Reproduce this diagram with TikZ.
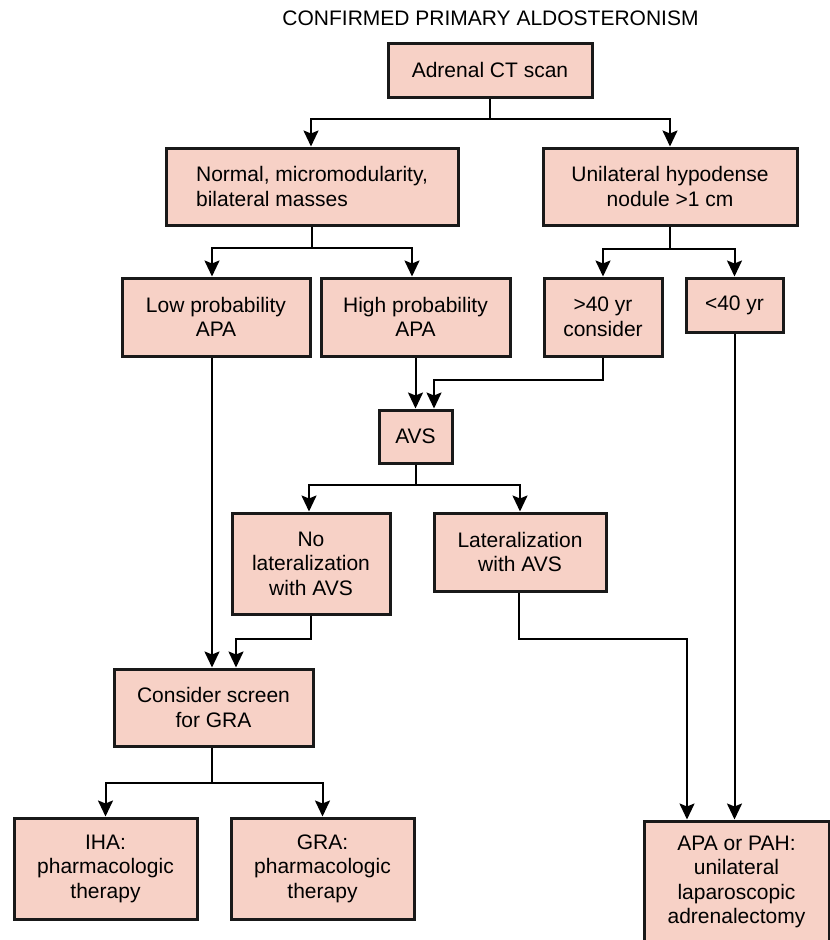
\documentclass[tikz,border=0pt]{standalone}
\usepackage{fontspec}
\setmainfont{Liberation Sans}
\usetikzlibrary{arrows.meta}
\definecolor{boxfill}{RGB}{247,209,198}
\begin{document}
\begin{tikzpicture}[x=1pt,y=-1pt,
  every node/.style={font=\fontsize{21}{24.5}\selectfont},
  fbox/.style={draw=black!90, line width=3pt, fill=boxfill, align=center, inner sep=0pt},
  arr/.style={line width=2pt, -{Stealth[length=16pt,width=15pt,inset=3pt]}},
  lin/.style={line width=2pt}]
\path[use as bounding box, clip] (0,0) rectangle (830,940);

\node[anchor=base] (title) at (490.5,25) {CONFIRMED PRIMARY ALDOSTERONISM};

\node[fbox, minimum width=204pt, minimum height=54pt] (ct) at (490,70) {Adrenal CT scan};
\node[fbox, minimum width=292pt, minimum height=77pt, align=left] (norm) at (312,186.5) {Normal, micromodularity,\\bilateral masses};
\node[fbox, minimum width=254pt, minimum height=77pt] (uni) at (670,186.5) {Unilateral hypodense\\nodule >1 cm};
\node[fbox, minimum width=188pt, minimum height=78pt] (low) at (216,317) {Low probability\\APA};
\node[fbox, minimum width=189pt, minimum height=78pt] (high) at (415.5,317) {High probability\\APA};
\node[fbox, minimum width=118pt, minimum height=78pt] (gt) at (603,317) {>40 yr\\consider};
\node[fbox, minimum width=97pt, minimum height=54pt] (lt) at (734.5,305) {<40 yr};
\node[fbox, minimum width=73pt, minimum height=53pt] (avs) at (415.5,436.5) {AVS};
\node[fbox, minimum width=158pt, minimum height=101pt] (nolat) at (311,563.5) {No\\lateralization\\with AVS};
\node[fbox, minimum width=172pt, minimum height=78pt] (lat) at (520,552) {Lateralization\\with AVS};
\node[fbox, minimum width=199pt, minimum height=77pt] (gra) at (213.5,707.5) {Consider screen\\for GRA};
\node[fbox, minimum width=183pt, minimum height=101pt] (iha) at (105.5,868.5) {IHA:\\pharmacologic\\therapy};
\node[fbox, minimum width=183pt, minimum height=101pt] (grat) at (322.5,868.5) {GRA:\\pharmacologic\\therapy};
\node[fbox, minimum width=185pt, minimum height=122pt] (apa) at (736.5,882) {APA or PAH:\\unilateral\\laparoscopic\\adrenalectomy};

% CT scan split
\draw[lin] (ct.south) -- ++(0,20) coordinate (ctj);
\draw[arr] (ctj) -| ([xshift=-1pt]norm.north);
\draw[arr] (ctj) -| (uni.north);
% Normal split
\draw[lin] (norm.south) -- ++(0,21) coordinate (nj);
\draw[arr] (nj) -| ([xshift=-4pt]low.north);
\draw[arr] (nj) -| ([xshift=-3.5pt]high.north);
% Unilateral split
\draw[lin] (uni.south) -- ++(0,22) coordinate (uj);
\draw[arr] (uj) -| (gt.north);
\draw[arr] (uj) -| (lt.north);
% to AVS
\draw[arr] (high.south) -- (avs.north);
\draw[arr] (gt.south) -- ++(0,22) -| ([xshift=18.5pt]avs.north);
% AVS split
\draw[lin] (avs.south) -- ++(0,20) coordinate (aj);
\draw[arr] (aj) -| ([xshift=-2pt]nolat.north);
\draw[arr] (aj) -| (lat.north);
% to GRA screen
\draw[arr] ([xshift=-4pt]low.south) -- ([xshift=-4pt]low.south |- gra.north);
\draw[arr] (nolat.south) -- ++(0,23) -| ([xshift=22.5pt]gra.north);
% to APA
\draw[arr] ([xshift=-1pt]lat.south) -- ++(0,46) -| ([xshift=-49.5pt]apa.north);
\draw[arr] (lt.south) -- (lt.south |- apa.north);
% GRA screen split
\draw[lin] ([xshift=-1.5pt]gra.south) -- ++(0,35) coordinate (gj);
\draw[arr] (gj) -| (iha.north);
\draw[arr] (gj) -| (grat.north);
\end{tikzpicture}
\end{document}
